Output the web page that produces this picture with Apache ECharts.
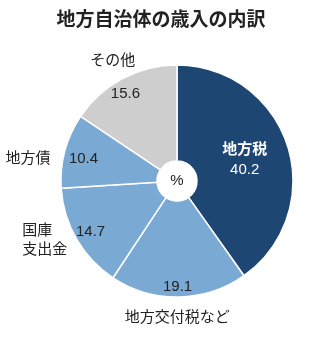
<!DOCTYPE html>
<html><head><meta charset="utf-8">
<script src="https://cdn.jsdelivr.net/npm/echarts@6/dist/echarts.min.js"></script>
<style>html,body{margin:0;padding:0;background:#fff}#c{width:322px;height:354px}</style>
</head><body><div id="c"></div>
<script>
const titleText = '地方自治体の歳入の内訳';
const categories = ['地方税', '地方交付税など', '国庫支出金', '地方債', 'その他'];
const values = [40.2, 19.1, 14.7, 10.4, 15.6];
const unitLabel = '%';

const FONT = "'Liberation Sans', 'Noto Sans CJK JP', sans-serif";
const colors = ['#1d4673', '#7aa9d3', '#7aa9d3', '#7aa9d3', '#cecece'];
const center = [177, 181];
// per-item label nudges (style only)
const valueOffsets = [[0,0],[-1,5],[1,0],[4,4],[-4,2]];
const nameOffsets = [[0,0],[-2,-6],[-8,-12],[-11,15],[3,6]];

const chart = echarts.init(document.getElementById('c'), null, {renderer: 'canvas'});
const transparent = 'rgba(0,0,0,0)';
const base = {
  type: 'pie', center: center, startAngle: 90, clockwise: true,
  avoidLabelOverlap: false, animation: false, labelLine: {show: false}
};

const mainData = categories.map((c, i) => ({
  name: c, value: values[i],
  itemStyle: {color: colors[i]},
  label: i === 0 ? {
    show: true, position: 'inside',
    formatter: '{n|' + c + '}\n{v|' + values[i] + '}',
    rich: {
      n: {color: '#fff', fontSize: 15, fontWeight: 'bold', fontFamily: FONT, lineHeight: 20},
      v: {color: '#fff', fontSize: 15, fontFamily: FONT, lineHeight: 20}
    }
  } : {show: false}
}));

const valueData = categories.map((c, i) => ({
  name: c, value: values[i],
  label: i === 0 ? {show: false} : {show: true, offset: valueOffsets[i]}
}));

const nameData = categories.map((c, i) => {
  const lab = {show: i !== 0, offset: nameOffsets[i]};
  if (c === '国庫支出金') {
    lab.formatter = '{a|国庫}\n{a|支出金}';
    lab.rich = {a: {width: 46, align: 'left', fontSize: 15, lineHeight: 19, color: '#222', fontFamily: FONT}};
  }
  return {name: c, value: values[i], label: lab};
});

chart.setOption({
  backgroundColor: '#fff',
  title: {
    text: titleText, left: 'center', top: 4,
    textStyle: {fontSize: 19, fontWeight: 'bold', color: '#222', fontFamily: "'Noto Sans CJK JP', sans-serif"}
  },
  series: [
    Object.assign({}, base, {
      name: 'main', radius: [20, 116],
      itemStyle: {borderColor: '#fff', borderWidth: 1.5},
      emphasis: {disabled: true},
      data: mainData
    }),
    Object.assign({}, base, {
      name: 'values', radius: [0, 196], silent: true, emphasis: {disabled: true},
      itemStyle: {color: transparent, borderWidth: 0},
      label: {position: 'inside', formatter: '{c}', fontSize: 15, color: '#222', fontFamily: FONT},
      data: valueData, z: 3
    }),
    Object.assign({}, base, {
      name: 'names', radius: [0, 280], silent: true, emphasis: {disabled: true},
      itemStyle: {color: transparent, borderWidth: 0},
      label: {position: 'inside', formatter: '{b}', fontSize: 15, color: '#222', fontFamily: FONT},
      data: nameData, z: 3
    }),
    Object.assign({}, base, {
      name: 'unit', radius: [0, 20], silent: true, emphasis: {disabled: true},
      itemStyle: {color: '#fff', borderWidth: 0},
      label: {show: true, position: 'center', formatter: unitLabel, fontSize: 15, color: '#222', fontFamily: FONT},
      data: [{name: unitLabel, value: 1}], z: 4
    })
  ]
});
</script></body></html>
